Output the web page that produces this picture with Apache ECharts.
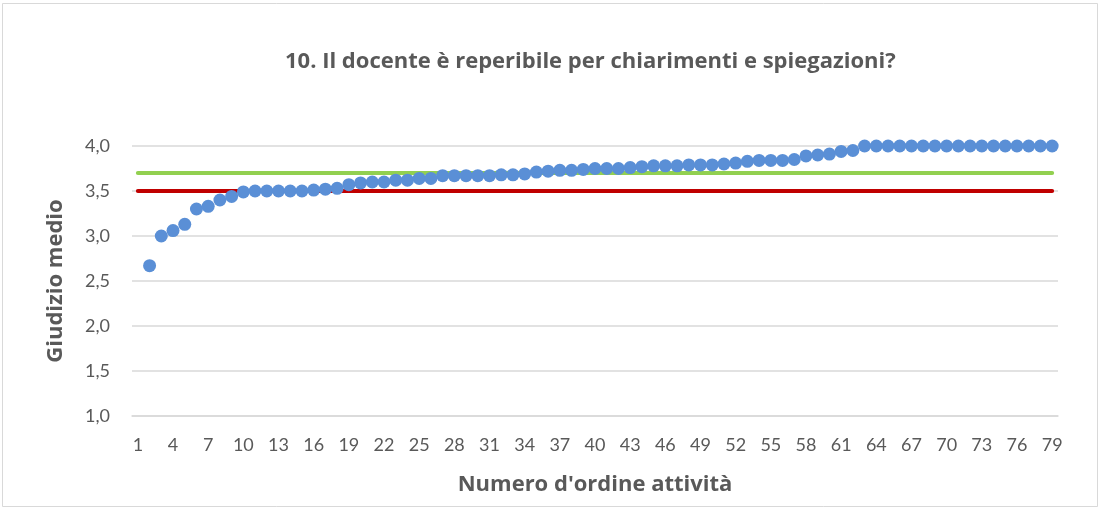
<!DOCTYPE html>
<html>
<head>
<meta charset="utf-8">
<script src="https://cdn.jsdelivr.net/npm/echarts@6/dist/echarts.min.js"></script>
<style>
html,body{margin:0;padding:0;background:#fff;}
#chart{width:1101px;height:509px;}
</style>
</head>
<body>
<div id="chart"></div>
<script>
const titleText = "10. Il docente è reperibile per chiarimenti e spiegazioni?";
const xAxisTitle = "Numero d'ordine attività";
const yAxisTitle = "Giudizio medio";
const categories = ["1","2","3","4","5","6","7","8","9","10","11","12","13","14","15","16","17","18","19","20",
  "21","22","23","24","25","26","27","28","29","30","31","32","33","34","35","36","37","38","39","40",
  "41","42","43","44","45","46","47","48","49","50","51","52","53","54","55","56","57","58","59","60",
  "61","62","63","64","65","66","67","68","69","70","71","72","73","74","75","76","77","78","79"];
const giudizioMedio = ['-',2.67,3.00,3.06,3.13,3.30,3.33,3.40,3.44,3.49,
  3.50,3.50,3.50,3.50,3.50,3.51,3.52,3.53,3.57,3.59,
  3.60,3.60,3.62,3.62,3.64,3.64,3.67,3.67,3.67,3.67,
  3.67,3.68,3.68,3.69,3.71,3.72,3.73,3.73,3.74,3.75,
  3.75,3.75,3.76,3.77,3.78,3.78,3.78,3.79,3.79,3.79,
  3.80,3.81,3.83,3.84,3.84,3.84,3.85,3.89,3.90,3.91,
  3.94,3.95,4.00,4.00,4.00,4.00,4.00,4.00,4.00,4.00,
  4.00,4.00,4.00,4.00,4.00,4.00,4.00,4.00,4.00];
const redThreshold = 3.5;
const greenThreshold = 3.7;
const yTicks = {min: 1.0, max: 4.0, interval: 0.5};

const font = "Lato";
const boldFont = "Open Sans";
const chart = echarts.init(document.getElementById('chart'), null, {renderer: 'canvas'});
chart.setOption({
  animation: false,
  backgroundColor: '#ffffff',
  graphic: [{
    type: 'rect', silent: true,
    shape: {x: 2.5, y: 3.5, width: 1095, height: 503},
    style: {fill: 'none', stroke: '#d9d9d9', lineWidth: 1}
  }],
  title: {
    text: titleText, left: 280, top: 46,
    textStyle: {fontFamily: boldFont, fontWeight: 'bold', fontSize: 22, color: '#595959'}
  },
  grid: {left: 132, right: 43, top: 146, bottom: 93, containLabel: false},
  xAxis: {
    type: 'category', data: categories, boundaryGap: true,
    name: xAxisTitle, nameLocation: 'middle', nameGap: 58,
    nameTextStyle: {fontFamily: boldFont, fontWeight: 'bold', fontSize: 22, color: '#595959'},
    axisLine: {show: true, lineStyle: {color: '#d9d9d9', width: 1.5}},
    axisTick: {show: false},
    axisLabel: {interval: 2, margin: 20, fontFamily: font, fontSize: 18, color: '#595959'},
    splitLine: {show: false}
  },
  yAxis: {
    type: 'value', min: yTicks.min, max: yTicks.max, interval: yTicks.interval,
    name: yAxisTitle, nameLocation: 'middle', nameGap: 65, nameRotate: 90,
    nameTextStyle: {fontFamily: boldFont, fontWeight: 'bold', fontSize: 22, color: '#595959'},
    axisLine: {show: false}, axisTick: {show: false},
    axisLabel: {margin: 22, fontFamily: font, fontSize: 18, color: '#595959',
      formatter: v => v.toFixed(1).replace('.', ',')},
    splitLine: {lineStyle: {color: '#d9d9d9', width: 1.5}}
  },
  series: [
    {
      type: 'line', data: [], silent: true, z: 1,
      markLine: {
        silent: true, symbol: 'none', label: {show: false},
        lineStyle: {type: 'solid', width: 4, cap: 'round'},
        data: [
          [{coord: [categories[0], greenThreshold], lineStyle: {color: '#92d050', width: 4, type: 'solid', cap: 'round'}},
           {coord: [categories[categories.length - 1], greenThreshold]}],
          [{coord: [categories[0], redThreshold], lineStyle: {color: '#c00000', width: 4, type: 'solid', cap: 'round'}},
           {coord: [categories[categories.length - 1], redThreshold]}]
        ]
      }
    },
    {
      type: 'scatter', data: giudizioMedio, z: 5,
      symbol: 'circle', symbolSize: 13,
      itemStyle: {color: '#5a8fd6', opacity: 1}
    }
  ]
});
</script>
</body>
</html>
